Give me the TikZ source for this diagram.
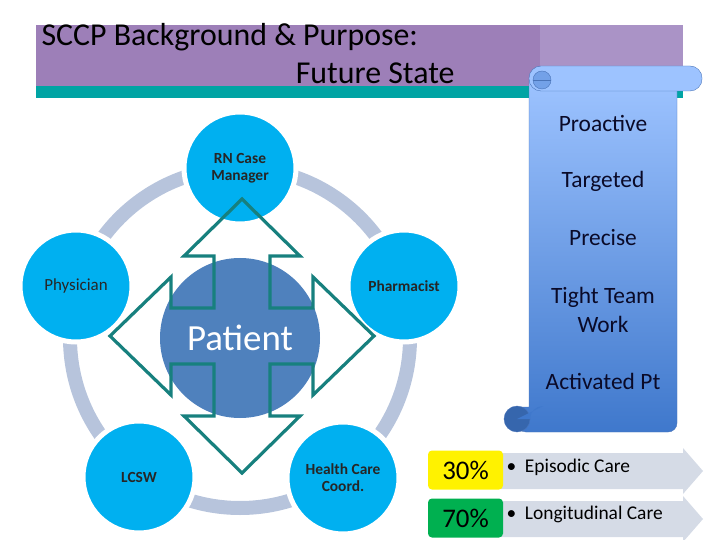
\documentclass[tikz,border=0pt]{standalone}
\usepackage{fontspec}
\setmainfont{Carlito}
\usetikzlibrary{positioning,calc}
\definecolor{bannerpurple}{HTML}{9D7FB8}
\definecolor{bannerlight}{HTML}{AA93C6}
\definecolor{bannerteal}{HTML}{00A4A4}
\definecolor{membercyan}{HTML}{00B0F0}
\definecolor{patientblue}{HTML}{4F81BD}
\definecolor{ringgray}{HTML}{B7C4DC}
\definecolor{arrowteal}{HTML}{17807E}
\definecolor{scrolltop}{HTML}{9DC3FF}
\definecolor{scrollbot}{HTML}{3F78CC}
\definecolor{scrollline}{HTML}{4A74B8}
\definecolor{chevron}{HTML}{D5DBE6}
\definecolor{pctgreen}{HTML}{00B050}

\begin{document}
\begin{tikzpicture}[x=1bp, y=-1bp,
  member/.style={circle, fill=membercyan, draw=white, line width=5bp,
    minimum size=112bp, inner sep=0pt, align=center, text=black!85,
    font=\bfseries\fontsize{15.5}{17}\selectfont},
  trait/.style={align=center, text={rgb,255:red,10;green,10;blue,40},
    font=\fontsize{23.5}{29}\selectfont},
  pct/.style={rounded corners=4bp, minimum width=75bp, minimum height=39bp,
    inner sep=0pt, font=\fontsize{27}{29}\selectfont},
  chev/.style={fill=chevron},
  item/.style={anchor=west, font=\fontsize{19.5}{22}\selectfont}]
  \useasboundingbox (0,0) rectangle (720,540);

  % title banner
  \fill[bannerpurple] (36,25) rectangle (540,86);
  \fill[bannerlight] (540,25) rectangle (683,86);
  \fill[bannerteal] (36,86) rectangle (683,98);
  \node[anchor=west, font=\fontsize{32}{34}\selectfont] (title) at (38,37)
    {SCCP Background \& Purpose:};
  \node[anchor=east, font=\fontsize{32}{34}\selectfont] (subtitle) at (458,73)
    {Future State};

  % care team ring
  \draw[ringgray, line width=14bp] (240,338) circle (170);
  \node[circle, fill=patientblue, minimum size=160bp, text=white,
    font=\fontsize{37}{39}\selectfont] (patient) at (240,338) {Patient};
  \node[member] (rn) at (240,168) {RN Case\\Manager};
  \node[member, font=\fontsize{17}{19}\selectfont] (phys) at (76,286) {Physician};
  \node[member] (pharm) at (404,286) {Pharmacist};
  \node[member] (lcsw) at (139,477) {LCSW};
  \node[member] (hcc) at (343,478) {Health Care\\Coord.};

  % four-way arrow
  \begin{scope}[shift={(242,336)}]
    \draw[arrowteal, line width=3.2bp, line join=miter]
      (0,-137) -- (58,-80) -- (28,-80) -- (28,-28) -- (71,-28) -- (71,-59)
      -- (132,0) -- (71,59) -- (71,28) -- (28,28) -- (28,80) -- (58,80)
      -- (0,137) -- (-58,80) -- (-28,80) -- (-28,28) -- (-71,28) -- (-71,59)
      -- (-132,0) -- (-71,-59) -- (-71,-28) -- (-28,-28) -- (-28,-80)
      -- (-58,-80) -- cycle;
  \end{scope}

  % scroll
  \shade[top color=scrolltop, bottom color=scrollbot, draw=scrollline]
    (529,80) -- (677,80) [rounded corners=9bp] -- (677,432) -- (517,432)
    [sharp corners] -- (517,407) -- (529,407) -- cycle;
  \filldraw[fill=scrollbot!85!black, draw=scrollline] (517,419) circle (13);
  \fill[scrollbot] (517,419) -- (530,419) arc (0:90:-13) -- cycle;
  \filldraw[fill=scrolltop, draw=scrollline, rounded corners=12bp]
    (529,66) rectangle (702,91);
  \filldraw[fill=scrolltop!55!scrollbot, draw=scrollline] (542,80) circle (9);
  \draw[scrollline] (533,80) -- (551,80);
  \node[trait] (proactive) at (603,123) {Proactive};
  \node[trait] (targeted) at (603,181) {Targeted};
  \node[trait] (precise) at (603,238) {Precise};
  \node[trait] (teamwork) at (603,310) {Tight Team\\Work};
  \node[trait] (activated) at (603,381) {Activated Pt};

  % care mix
  \fill[chev] (500,453) -- (683,453) -- (683,448) -- (703,471) -- (683,494)
    -- (683,489) -- (500,489) -- cycle;
  \fill[chev] (500,501) -- (683,501) -- (683,496) -- (703,519) -- (683,542)
    -- (683,537) -- (500,537) -- cycle;
  \node[pct, fill=yellow] (thirty) at (465.5,470) {30\%};
  \node[pct, fill=pctgreen] (seventy) at (465.5,518) {70\%};
  \node[item] (episodic) at (503,467) {\textbullet\ \ Episodic Care};
  \node[item] (longitudinal) at (503,514) {\textbullet\ \ Longitudinal Care};
\end{tikzpicture}
\end{document}
